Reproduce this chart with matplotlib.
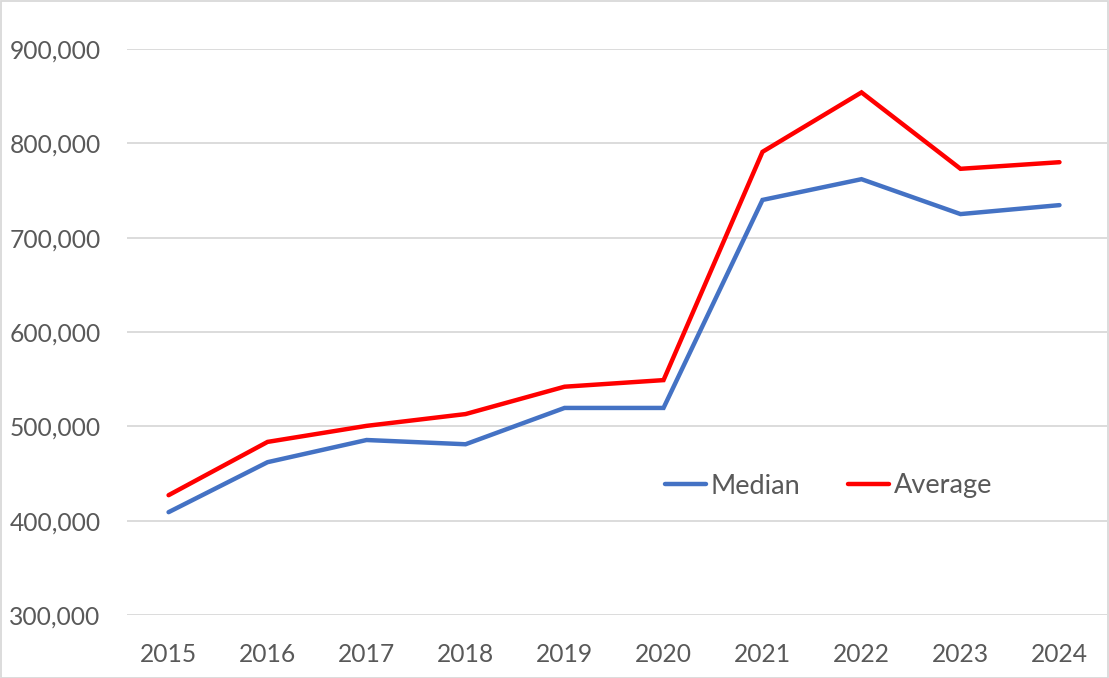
import matplotlib
matplotlib.use("Agg")
import matplotlib.pyplot as plt
from matplotlib.patches import Rectangle
from matplotlib.ticker import FuncFormatter

years = ["2015", "2016", "2017", "2018", "2019", "2020", "2021", "2022", "2023", "2024"]
median = [409000, 462000, 485500, 481000, 519500, 519500, 740000, 762000, 725000, 734500]
average = [427000, 483500, 500500, 513000, 542000, 549000, 791000, 854000, 773000, 780000]
yticks = [300000, 400000, 500000, 600000, 700000, 800000, 900000]

plt.rcParams['font.family'] = ['Lato', 'DejaVu Sans']
txt = '#595959'

W, H = 1109, 678
fig = plt.figure(figsize=(W / 100, H / 100), dpi=100)
ax = fig.add_axes([127 / W, (H - 615) / H, 980 / W, 566 / H])

x = list(range(len(years)))
ax.plot(x, median, color='#4472C4', lw=3.2, label='Median', solid_capstyle='round', solid_joinstyle='miter')
ax.plot(x, average, color='#FF0000', lw=3.2, label='Average', solid_capstyle='round', solid_joinstyle='miter')

ax.set_xlim(-0.42, 9.48)
ax.set_ylim(300000, 900000)
ax.set_yticks(yticks)
ax.yaxis.set_major_formatter(FuncFormatter(lambda v, p: f"{int(v):,}"))
ax.set_xticks(x)
ax.set_xticklabels(years)
ax.grid(axis='y', color='#D9D9D9', lw=1.3)
ax.set_axisbelow(True)
for s in ax.spines.values():
    s.set_visible(False)
ax.tick_params(axis='both', length=0, labelsize=17.7, labelcolor=txt)
ax.tick_params(axis='y', pad=19)
ax.tick_params(axis='x', pad=20)

leg = ax.legend(loc='center', bbox_to_anchor=(828.5 / W, (H - 486) / H), bbox_transform=fig.transFigure,
                ncol=2, frameon=False, fontsize=19.5, handlelength=1.52, handletextpad=0.15,
                columnspacing=1.78, borderpad=0, borderaxespad=0)
for t in leg.get_texts():
    t.set_color(txt)

fig.add_artist(Rectangle((0.5 / W, 0.5 / H), 1 - 1.5 / W, 1 - 1.5 / H, transform=fig.transFigure,
                         fill=False, edgecolor='#D9D9D9', lw=1.3))

fig.savefig('out.png', dpi=100, facecolor='white')
